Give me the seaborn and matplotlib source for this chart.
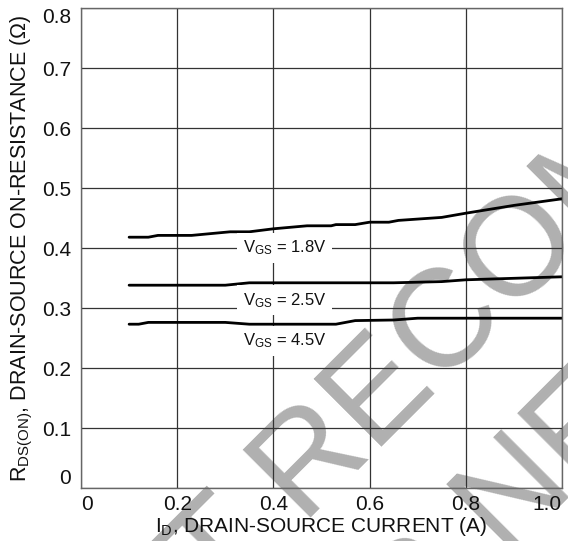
import numpy as np
import pandas as pd
import matplotlib
matplotlib.use("Agg")
import matplotlib.pyplot as plt
import seaborn as sns

# Curves
id_18 = [0.10, 0.14, 0.16, 0.23, 0.31, 0.35, 0.40, 0.47, 0.52, 0.53, 0.57, 0.60, 0.64, 0.66, 0.75, 0.80, 0.90, 1.00]
rds_18 = [0.418, 0.418, 0.421, 0.421, 0.427, 0.427, 0.432, 0.437, 0.437, 0.439, 0.439, 0.443, 0.443, 0.446, 0.451, 0.458, 0.471, 0.482]

id_25 = [0.10, 0.30, 0.35, 0.65, 0.75, 0.80, 1.00]
rds_25 = [0.338, 0.338, 0.342, 0.342, 0.344, 0.347, 0.352]

id_45 = [0.10, 0.12, 0.14, 0.30, 0.35, 0.53, 0.55, 0.57, 0.65, 0.70, 0.80, 1.00]
rds_45 = [0.273, 0.273, 0.276, 0.276, 0.273, 0.273, 0.276, 0.279, 0.280, 0.283, 0.283, 0.283]

labels = ["1.8V", "2.5V", "4.5V"]
label_x = [0.423, 0.423, 0.423]
label_y = [0.400, 0.313, 0.245]

xticks = [0, 0.2, 0.4, 0.6, 0.8, 1.0]
xtick_labels = ["0", "0.2", "0.4", "0.6", "0.8", "1.0"]
yticks = [0, 0.1, 0.2, 0.3, 0.4, 0.5, 0.6, 0.7, 0.8]
ytick_labels = ["0", "0.1", "0.2", "0.3", "0.4", "0.5", "0.6", "0.7", "0.8"]

df = pd.concat([
    pd.DataFrame({"id": id_18, "rds": rds_18, "vgs": "1.8V"}),
    pd.DataFrame({"id": id_25, "rds": rds_25, "vgs": "2.5V"}),
    pd.DataFrame({"id": id_45, "rds": rds_45, "vgs": "4.5V"}),
], ignore_index=True)

sns.set_theme(style="white")
plt.rcParams["font.family"] = ["Liberation Sans", "DejaVu Sans"]
plt.rcParams["mathtext.fontset"] = "custom"
plt.rcParams["mathtext.rm"] = "Liberation Sans"
plt.rcParams["mathtext.it"] = "Liberation Sans"

fig = plt.figure(figsize=(5.68, 5.41), dpi=100)
ax = fig.add_axes([81 / 568, 1 - 488 / 541, 481 / 568, 480 / 541])
ax.patch.set_facecolor("none")

# watermark behind everything
wm = dict(color="#b0b0b0", fontsize=100, rotation=45, rotation_mode="anchor",
          ha="left", va="baseline", zorder=-5, family="Liberation Sans")
fig.text(70 / 568, 1 - 758 / 541, "NOT RECOMMENDED", **wm)
fig.text(272 / 568, 1 - 794 / 541, "FOR NEW DESIGNS", **wm)

sns.lineplot(data=df, x="id", y="rds", hue="vgs", palette=["black"] * 3,
             legend=False, linewidth=2.0, ax=ax, estimator=None, sort=False)

for lab, lx, ly in zip(labels, label_x, label_y):
    ax.text(lx, ly, r"V$_{\mathregular{GS}}$ = " + lab, ha="center", va="center",
            fontsize=12, color="#111111",
            bbox=dict(facecolor="white", edgecolor="none", pad=4))

ax.set_xlim(0, 1.0)
ax.set_ylim(0, 0.8)
ax.set_xticks(xticks)
ax.set_xticklabels(xtick_labels)
ax.set_yticks(yticks)
ax.set_yticklabels(ytick_labels)
ax.grid(True, color="#333333", linewidth=0.9)
ax.set_axisbelow(True)
for s in ax.spines.values():
    s.set_color("#666666")
    s.set_linewidth(1.0)
ax.tick_params(axis="both", length=0, labelsize=15, colors="#111111")
ax.tick_params(axis="y", pad=7)
ax.tick_params(axis="x", pad=5)

# end labels sit inside the axis range, as in the datasheet
yl = ax.get_yticklabels()
yl[0].set_va("bottom")
yl[-1].set_va("top")
xl = ax.get_xticklabels()
xl[0].set_ha("left")
xl[-1].set_ha("right")

ax.set_xlabel(r"I$_{\mathregular{D}}$, DRAIN-SOURCE CURRENT (A)", fontsize=15,
              color="#111111", labelpad=1)
ax.set_ylabel(r"R$_{\mathregular{DS(ON)}}$, DRAIN-SOURCE ON-RESISTANCE (Ω)", fontsize=15.5,
              color="#111111", labelpad=5)

fig.savefig("out.png", dpi=100)
